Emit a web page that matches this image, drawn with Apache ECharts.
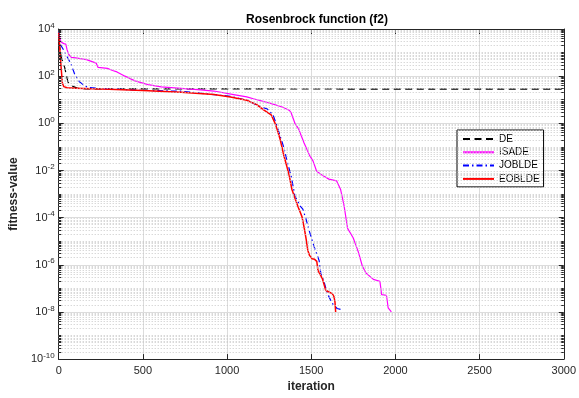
<!DOCTYPE html>
<html>
<head>
<meta charset="utf-8">
<title>Rosenbrock function (f2)</title>
<script src="https://cdn.jsdelivr.net/npm/echarts@6/dist/echarts.min.js"></script>
<style>
  html, body { margin: 0; padding: 0; background: #fff; }
  #chart { width: 579px; height: 398px; }
</style>
</head>
<body>
<div id="chart"></div>
<script>
// series names
var seriesNames = ['DE', 'ISADE', 'JOBLDE', 'EOBLDE'];

// DE
var deIter = [0, 5, 15, 35, 55, 84, 110, 160, 3000];
var deVal  = [7.9e3, 2e3, 650, 240, 56, 37, 31, 29, 28];

// ISADE
var isadeIter = [0, 5, 13, 30, 42, 50, 60, 75, 100, 165, 223, 234, 290, 320, 346, 394, 453, 531, 609, 687,
  844, 922, 1039, 1117, 1156, 1254, 1332, 1371, 1381, 1403, 1424, 1457, 1489, 1511, 1532, 1566, 1605, 1651,
  1674, 1695, 1716, 1749, 1781, 1803, 1825, 1869, 1908, 1918, 1947, 1957, 1976];
var isadeVal  = [7.1e3, 5e3, 2.8e3, 2.4e3, 2.3e3, 1.3e3, 830, 630, 600, 500, 355, 234, 214, 174, 151, 100, 63, 44, 35, 32,
  26, 23.4, 16.6, 13.2, 11, 7.2, 4.8, 3.5, 2.75, 1.0, 0.6, 0.15, 0.045, 0.025, 9.3e-3, 6.3e-3, 4.3e-3, 3.6e-3,
  1.6e-3, 3.2e-4, 3.5e-5, 1.4e-5, 3.3e-6, 9.1e-7, 4.5e-7, 2.4e-7, 2e-7, 5.4e-8, 5e-8, 1.5e-8, 1e-8];

// JOBLDE
var jobldeIter = [0, 5, 25, 45, 74, 94, 123, 152, 172, 234, 300, 500, 727, 1020, 1117, 1196, 1240, 1273, 1294, 1316,
  1338, 1359, 1381, 1403, 1435, 1450, 1460, 1469, 1490, 1518, 1547, 1557, 1576, 1596, 1625, 1654, 1688];
var jobldeVal  = [7.9e3, 2.5e3, 1.45e3, 790, 316, 126, 58, 40, 34, 30, 29, 25, 23, 14, 9.5, 5.2, 4, 2.3, 0.87, 0.28,
  0.091, 0.021, 5.8e-3, 8.3e-4, 3.1e-4, 2.3e-4, 2e-4, 8.7e-5, 2.5e-5, 5.6e-6, 1.5e-6, 4.2e-7, 1.9e-7, 6e-8, 2.3e-8, 1.4e-8, 1.2e-8];

// EOBLDE
var eobldeIter = [0, 8, 15, 22, 30, 50, 100, 200, 300, 500, 727, 922, 1020, 1117, 1176, 1215, 1262, 1284, 1295, 1316,
  1338, 1355, 1370, 1385, 1405, 1424, 1445, 1460, 1470, 1480, 1490, 1505, 1520, 1533, 1540, 1552, 1566, 1586, 1605,
  1625, 1635, 1641, 1645];
var eobldeVal  = [7e3, 1e3, 2e2, 50, 36, 32, 31, 29, 28, 24.5, 21, 16.6, 13, 9.5, 6.2, 3.8, 2.3, 1.05, 0.63, 0.2,
  0.041, 0.015, 5.8e-3, 1.6e-3, 6.2e-4, 2.6e-4, 1.1e-4, 3.2e-5, 1.2e-5, 4e-6, 2.5e-6, 1.8e-6, 1.7e-6, 1.4e-6, 5.8e-7,
  4e-7, 2.6e-7, 8.3e-8, 7e-8, 6e-8, 4.5e-8, 2.7e-8, 1e-8];

// axis ranges / ticks
var xMin = 0, xMax = 3000, xStep = 500;
var expMin = -10, expMax = 4, expStep = 2;

var font = 'Liberation Sans, Arial, sans-serif';
var axisColor = '#262626';

function pairs(xs, ys) {
  return xs.map(function (x, i) { return [x, ys[i]]; });
}

// minor grid (log decades) + minor ticks, drawn on the log axis
var minorLine = { color: '#c8c8c8', type: [1, 2], width: 1 };
var tickLine = { color: axisColor, type: 'solid', width: 1 };
var minorGrid = [];
var minorTicks = [];
for (var e = expMin; e <= expMax; e++) {
  var vals = [];
  if (e < expMax) for (var m = 2; m <= 9; m++) vals.push(m * Math.pow(10, e));
  if (e % 2 !== 0) vals.push(Math.pow(10, e));
  vals.forEach(function (v) {
    minorGrid.push({ yAxis: v, lineStyle: minorLine });
    minorTicks.push([{ coord: [xMin, v], lineStyle: tickLine }, { coord: [xMin + 15, v] }]);
    minorTicks.push([{ coord: [xMax - 15, v], lineStyle: tickLine }, { coord: [xMax, v] }]);
  });
}

var chart = echarts.init(document.getElementById('chart'));

var option = {
  animation: false,
  backgroundColor: '#fff',
  textStyle: { fontFamily: font },
  title: {
    text: 'Rosenbrock function (f2)',
    left: 312,
    textAlign: 'center',
    top: 9,
    textStyle: { fontSize: 12, fontWeight: 'bold', color: '#000', fontFamily: font }
  },
  legend: {
    data: seriesNames,
    orient: 'vertical',
    left: 457,
    top: 130,
    itemWidth: 31,
    itemHeight: 10,
    itemGap: 3.3,
    padding: [4, 4, 3, 5],
    backgroundColor: '#fff',
    borderColor: '#000',
    borderWidth: 1,
    borderRadius: 0,
    itemStyle: { opacity: 0 },
    textStyle: { fontSize: 10, color: '#000', fontFamily: font }
  },
  grid: { left: 56, right: 11, top: 29, bottom: 37, containLabel: false },
  xAxis: [{
    type: 'value', min: xMin, max: xMax, interval: xStep, position: 'bottom',
    name: 'iteration', nameLocation: 'middle', nameGap: 20,
    nameTextStyle: { fontSize: 12, fontWeight: 'bold', color: axisColor },
    axisLine: { onZero: false, lineStyle: { color: axisColor, width: 1 } },
    axisTick: { inside: true, length: 5, lineStyle: { color: axisColor } },
    axisLabel: { fontSize: 11, color: axisColor, margin: 6, formatter: function (v) { return String(v); } },
    splitLine: { show: true, lineStyle: { color: '#dcdcdc', width: 1 } }
  }, {
    type: 'value', min: xMin, max: xMax, interval: xStep, position: 'top',
    axisLine: { onZero: false, lineStyle: { color: axisColor, width: 1 } },
    axisTick: { inside: true, length: 5, lineStyle: { color: axisColor } },
    axisLabel: { show: false },
    splitLine: { show: false }
  }],
  yAxis: [{
    type: 'log', logBase: 10, min: Math.pow(10, expMin), max: Math.pow(10, expMax),
    show: false
  }, {
    type: 'value', min: expMin, max: expMax, interval: expStep, position: 'left',
    name: 'fitness-value', nameLocation: 'middle', nameGap: 34, nameRotate: 90,
    nameTextStyle: { fontSize: 12, fontWeight: 'bold', color: axisColor },
    axisLine: { show: true, onZero: false, lineStyle: { color: axisColor, width: 1 } },
    axisTick: { show: true, inside: true, length: 5, lineStyle: { color: axisColor } },
    axisLabel: {
      margin: 4,
      formatter: function (v) { return '{b|10}{s|' + v + '}'; },
      rich: {
        b: { fontSize: 11, color: axisColor, fontFamily: font },
        s: { fontSize: 8, color: axisColor, fontFamily: font, verticalAlign: 'bottom', padding: [0, 0, 7, 0] }
      }
    },
    splitLine: { show: true, lineStyle: { color: '#dcdcdc', width: 1 } }
  }, {
    type: 'value', min: expMin, max: expMax, interval: expStep, position: 'right',
    axisLine: { show: true, onZero: false, lineStyle: { color: axisColor, width: 1 } },
    axisTick: { show: true, inside: true, length: 5, lineStyle: { color: axisColor } },
    axisLabel: { show: false },
    splitLine: { show: false }
  }],
  series: [{
    name: 'grid',
    type: 'line',
    data: [],
    z: 1,
    silent: true,
    markLine: {
      silent: true, symbol: ['none', 'none'], label: { show: false },
      precision: 15,
      emphasis: { disabled: true },
      data: minorGrid.concat(minorTicks)
    }
  }, {
    name: 'DE', type: 'line', data: pairs(deIter, deVal), showSymbol: false, symbol: 'none',
    lineStyle: { color: '#000', width: 1.2, type: [7, 4.5] }, itemStyle: { color: '#000' }
  }, {
    name: 'ISADE', type: 'line', data: pairs(isadeIter, isadeVal), showSymbol: false, symbol: 'none',
    lineStyle: { color: '#ff00ff', width: 1.2 }, itemStyle: { color: '#ff00ff' }
  }, {
    name: 'JOBLDE', type: 'line', data: pairs(jobldeIter, jobldeVal), showSymbol: false, symbol: 'none',
    lineStyle: { color: '#0000ff', width: 1.2, type: [6, 3, 1.5, 3] }, itemStyle: { color: '#0000ff' }
  }, {
    name: 'EOBLDE', type: 'line', data: pairs(eobldeIter, eobldeVal), showSymbol: false, symbol: 'none',
    lineStyle: { color: '#ff0000', width: 1.5 }, itemStyle: { color: '#ff0000' }
  }]
};

chart.setOption(option);
</script>
</body>
</html>
